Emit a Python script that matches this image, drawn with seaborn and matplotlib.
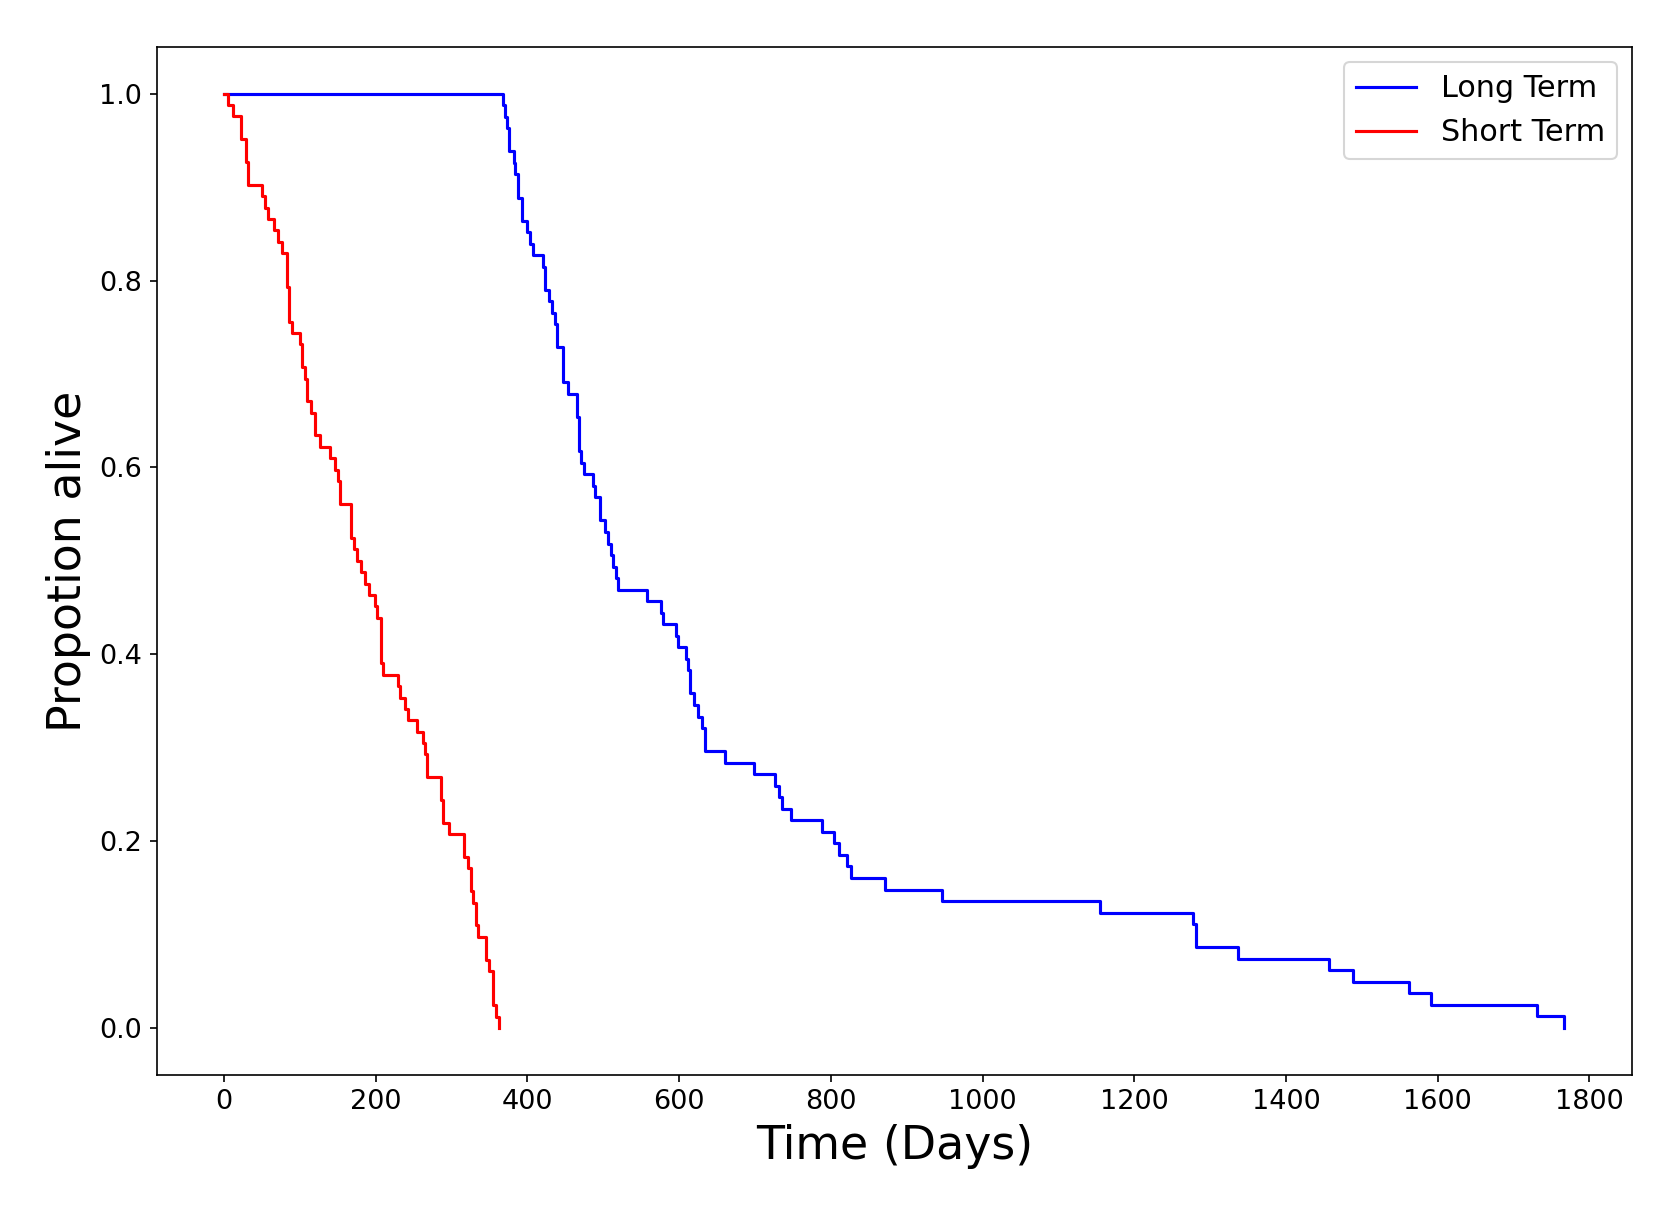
import pandas as pd
import matplotlib
matplotlib.use("Agg")
import matplotlib.pyplot as plt
import seaborn as sns

# Long term group (81 patients): day of each drop and number still alive after it
long_days = [0, 368, 370, 373, 376, 382, 384, 387, 393, 400, 404, 407, 421, 423,
             429, 432, 436, 439, 447, 453, 465, 468, 471, 475, 486, 489, 495, 502,
             506, 510, 513, 517, 520, 558, 576, 579, 596, 598, 609, 612, 614, 619,
             625, 630, 634, 660, 698, 726, 732, 736, 747, 788, 804, 811, 821, 827,
             871, 946, 1155, 1278, 1281, 1337, 1457, 1488, 1562, 1591, 1731, 1767]
long_alive = [81, 80, 79, 78, 76, 75, 74, 72, 70, 69, 68, 67, 66, 64,
              63, 62, 61, 59, 56, 55, 53, 50, 49, 48, 47, 46, 44, 43,
              42, 41, 40, 39, 38, 37, 36, 35, 34, 33, 32, 31, 29, 28,
              27, 26, 24, 23, 22, 21, 20, 19, 18, 17, 16, 15, 14, 13,
              12, 11, 10, 9, 7, 6, 5, 4, 3, 2, 1, 0]
long_n = 81

# Short term group (82 patients)
short_days = [0, 5, 12.5, 22.6, 29, 31, 50, 54, 58, 66, 71, 77, 83, 86, 90, 100,
              103, 107, 110, 115, 120, 126, 140, 146, 150, 153, 167, 172, 175, 180,
              186, 191, 199, 202, 207, 210, 229, 232, 238, 243, 254, 262, 265, 267,
              286, 289, 296, 317, 321, 325, 328, 332, 335, 346, 349, 355, 359, 362]
short_alive = [82, 81, 80, 78, 76, 74, 73, 72, 71, 70, 69, 68, 65, 62, 61, 60,
               58, 57, 55, 54, 52, 51, 50, 49, 48, 46, 43, 42, 41, 40,
               39, 38, 37, 36, 32, 31, 30, 29, 28, 27, 26, 25, 24, 22,
               20, 18, 17, 15, 14, 12, 11, 9, 8, 6, 5, 2, 1, 0]
short_n = 82

long_df = pd.DataFrame({"days": long_days,
                        "prop": [a / long_n for a in long_alive]})
short_df = pd.DataFrame({"days": short_days,
                         "prop": [a / short_n for a in short_alive]})

fig = plt.figure(figsize=(1675 / 150, 1208 / 150), dpi=150)
ax = fig.add_axes([0.0937, 0.1104, 0.9743 - 0.0937, 0.9611 - 0.1104])

sns.lineplot(data=long_df, x="days", y="prop", color="blue", label="Long Term",
             drawstyle="steps-post", errorbar=None, linewidth=1.5, ax=ax)
sns.lineplot(data=short_df, x="days", y="prop", color="red", label="Short Term",
             drawstyle="steps-post", errorbar=None, linewidth=1.5, ax=ax)

ax.set_xlabel("Time (Days)", fontsize=22)
ax.set_ylabel("Propotion alive", fontsize=22)
ax.tick_params(labelsize=13)
ax.set_xticks(range(0, 2000, 200))
ax.set_xlim(-88.4, 1856)
ax.set_ylim(-0.05, 1.05)
ax.legend(loc="upper right", fontsize=14.5)

fig.savefig("out.png", dpi=150)
